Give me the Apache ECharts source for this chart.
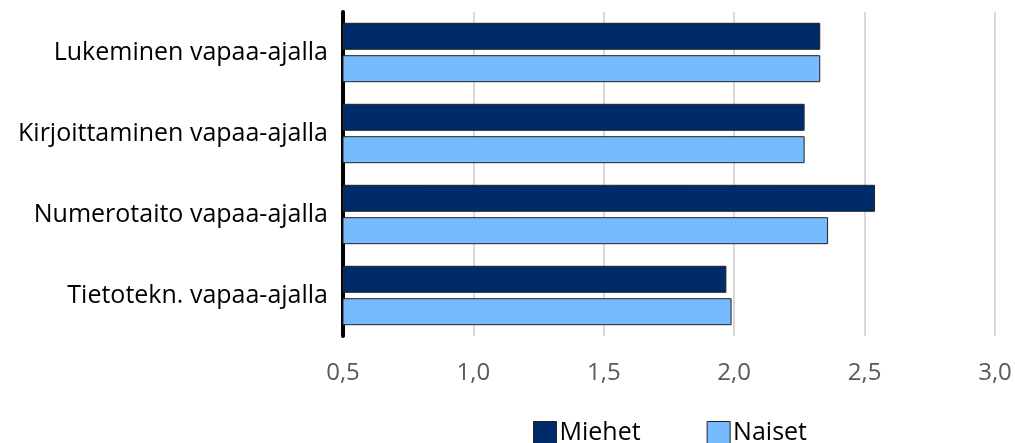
<!DOCTYPE html>
<html>
<head>
<meta charset="utf-8">
<script src="https://cdn.jsdelivr.net/npm/echarts@6/dist/echarts.min.js"></script>
<style>
  html, body { margin: 0; padding: 0; background: #fff; }
  #chart { width: 1015px; height: 443px; }
</style>
</head>
<body>
<div id="chart"></div>
<script>
const categories = ['Lukeminen vapaa-ajalla', 'Kirjoittaminen vapaa-ajalla', 'Numerotaito vapaa-ajalla', 'Tietotekn. vapaa-ajalla']
const miehet = [2.33, 2.27, 2.54, 1.97]
const naiset = [2.33, 2.27, 2.36, 1.99]

const chart = echarts.init(document.getElementById('chart'))
const font = 'Open Sans'

chart.setOption({
  animation: false,
  grid: { left: 343, right: 20, top: 12, bottom: 107 },
  legend: {
    left: 528,
    top: 415,
    icon: 'rect',
    itemWidth: 23,
    itemHeight: 22,
    itemGap: 66,
    textStyle: { fontFamily: font, fontSize: 25, color: '#000', padding: [0, 0, 0, -2] },
    itemStyle: { borderColor: '#222', borderWidth: 1 },
    data: ['Miehet', 'Naiset']
  },
  xAxis: {
    type: 'value',
    min: 0.5,
    max: 3.0,
    interval: 0.5,
    axisLine: { show: false },
    axisTick: { show: false },
    splitLine: { lineStyle: { color: '#d9d9d9', width: 2 } },
    axisLabel: {
      fontFamily: font,
      fontSize: 24,
      color: '#595959',
      margin: 25,
      formatter: v => v.toFixed(1).replace('.', ',')
    }
  },
  yAxis: {
    type: 'category',
    inverse: true,
    data: categories,
    axisLine: { lineStyle: { color: '#000', width: 4 } },
    axisTick: { show: false },
    axisLabel: { fontFamily: font, fontSize: 25, color: '#000', margin: 15 }
  },
  series: [
    {
      name: 'Miehet',
      type: 'bar',
      data: miehet,
      barWidth: 27,
      barGap: '20%',
      itemStyle: { color: '#002b6b', borderColor: '#222', borderWidth: 1 }
    },
    {
      name: 'Naiset',
      type: 'bar',
      data: naiset,
      barWidth: 27,
      itemStyle: { color: '#77bbff', borderColor: '#222', borderWidth: 1 }
    }
  ]
})
</script>
</body>
</html>
